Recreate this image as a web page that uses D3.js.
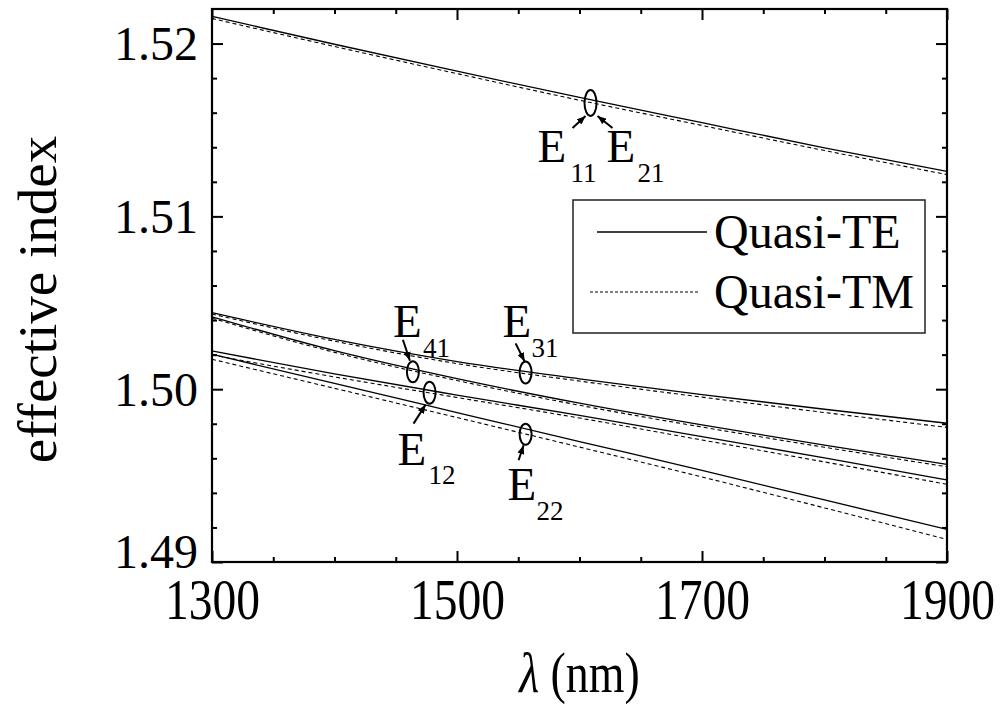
<!DOCTYPE html>
<html>
<head>
<meta charset="utf-8">
<script src="https://cdn.jsdelivr.net/npm/d3@7"></script>
<style>
  html, body { margin: 0; padding: 0; background: #fff; }
  svg { display: block; font-family: "Liberation Serif", "Times New Roman", serif; }
</style>
</head>
<body>
<svg id="chart" width="1003" height="708"></svg>
<script>
// Wavelength samples (nm)
const wavelengths = [1300, 1400, 1500, 1600, 1700, 1800, 1900];

// Effective index of each guided mode: quasi-TE (solid) and quasi-TM (dashed)
const e11TE = [1.52157, 1.51996, 1.51840, 1.51688, 1.51542, 1.51397, 1.51260];
const e11TM = [1.52145, 1.51983, 1.51826, 1.51672, 1.51526, 1.51381, 1.51242];
const e31TE = [1.50443, 1.50288, 1.50160, 1.50060, 1.49969, 1.49884, 1.49803];
const e31TM = [1.50435, 1.50278, 1.50148, 1.50047, 1.49954, 1.49865, 1.49779];
const e41TE = [1.50419, 1.50223, 1.50061, 1.49919, 1.49793, 1.49676, 1.49565];
const e41TM = [1.50411, 1.50213, 1.50050, 1.49907, 1.49781, 1.49664, 1.49551];
const e12TE = [1.50221, 1.50088, 1.49966, 1.49848, 1.49726, 1.49602, 1.49475];
const e12TM = [1.50198, 1.50071, 1.49952, 1.49833, 1.49706, 1.49579, 1.49450];
const e22TE = [1.50202, 1.50033, 1.49865, 1.49697, 1.49530, 1.49359, 1.49189];
const e22TM = [1.50173, 1.50005, 1.49836, 1.49665, 1.49492, 1.49313, 1.49131];

// Axis ticks
const xMajorTicks = [1300, 1500, 1700, 1900];
const xMinorTicks = [1350, 1400, 1450, 1550, 1600, 1650, 1750, 1800, 1850];
const yMajorTicks = [1.49, 1.50, 1.51, 1.52];
const yMinorTicks = [1.492, 1.494, 1.496, 1.498, 1.502, 1.504, 1.506, 1.508,
                     1.512, 1.514, 1.516, 1.518];

// Mode markers: wavelength / index where each ellipse sits
const markerModes  = ["11,21", "41", "31", "12", "22"];
const markerLambda = [1609, 1464, 1556, 1477.6, 1556];
const markerIndex  = [1.51656, 1.50101, 1.50097, 1.49980, 1.49739];

const legendLabels = ["Quasi-TE", "Quasi-TM"];

const svg = d3.select("#chart");
const plot = { left: 212, right: 947, top: 9, bottom: 562 };

const x = d3.scaleLinear().domain([1300, 1900]).range([plot.left, plot.right]);
const y = d3.scaleLinear().domain([1.49, 1.522]).range([plot.bottom, plot.top]);

const serif = '"Liberation Serif", "Times New Roman", serif';

// ---- curves ----
const series = [
  { v: e11TE, dash: false }, { v: e11TM, dash: true },
  { v: e31TE, dash: false }, { v: e31TM, dash: true },
  { v: e41TE, dash: false }, { v: e41TM, dash: true },
  { v: e12TE, dash: false }, { v: e12TM, dash: true },
  { v: e22TE, dash: false }, { v: e22TM, dash: true }
];

const line = d3.line()
  .x(d => x(d[0]))
  .y(d => y(d[1]))
  .curve(d3.curveMonotoneX);

svg.append("defs").append("clipPath").attr("id", "plotclip")
  .append("rect")
  .attr("x", plot.left).attr("y", plot.top)
  .attr("width", plot.right - plot.left).attr("height", plot.bottom - plot.top);

const curves = svg.append("g").attr("clip-path", "url(#plotclip)");
curves.selectAll("path.mode")
  .data(series)
  .join("path")
  .attr("class", "mode")
  .attr("d", s => line(wavelengths.map((w, i) => [w, s.v[i]])))
  .attr("fill", "none")
  .attr("stroke", "#000")
  .attr("stroke-width", s => s.dash ? 1.1 : 1.3)
  .attr("stroke-dasharray", s => s.dash ? "4,3" : null);

// ---- axes (ticks point inward on all four sides) ----
function styleAxis(g) {
  g.select(".domain").remove();
  g.selectAll(".tick line").attr("stroke", "#000").attr("stroke-width", 2);
}

// bottom
svg.append("g").attr("transform", `translate(0,${plot.bottom})`)
  .call(d3.axisBottom(x).tickValues(xMajorTicks).tickSize(-11).tickPadding(16)
        .tickFormat(d3.format("d")))
  .call(styleAxis)
  .call(g => g.selectAll(".tick text")
    .attr("font-family", serif).attr("font-size", 58).attr("fill", "#000")
    .attr("dy", "0.71em")
    .attr("transform", "scale(0.82,1)")
    .attr("x", 0));
svg.append("g").attr("transform", `translate(0,${plot.bottom})`)
  .call(d3.axisBottom(x).tickValues(xMinorTicks).tickSize(-5).tickFormat(""))
  .call(styleAxis);

// top
svg.append("g").attr("transform", `translate(0,${plot.top})`)
  .call(d3.axisTop(x).tickValues(xMajorTicks).tickSize(-11).tickFormat(""))
  .call(styleAxis);
svg.append("g").attr("transform", `translate(0,${plot.top})`)
  .call(d3.axisTop(x).tickValues(xMinorTicks).tickSize(-5).tickFormat(""))
  .call(styleAxis);

// left
svg.append("g").attr("transform", `translate(${plot.left},0)`)
  .call(d3.axisLeft(y).tickValues(yMajorTicks).tickSize(-11).tickPadding(14)
        .tickFormat(d3.format(".2f")))
  .call(styleAxis)
  .call(g => g.selectAll(".tick text")
    .attr("font-family", serif).attr("font-size", 48).attr("fill", "#000")
    .attr("dy", d => d === 1.49 ? "0.12em" : "0.34em"));
svg.append("g").attr("transform", `translate(${plot.left},0)`)
  .call(d3.axisLeft(y).tickValues(yMinorTicks).tickSize(-5).tickFormat(""))
  .call(styleAxis);

// right
svg.append("g").attr("transform", `translate(${plot.right},0)`)
  .call(d3.axisRight(y).tickValues(yMajorTicks).tickSize(-11).tickFormat(""))
  .call(styleAxis);
svg.append("g").attr("transform", `translate(${plot.right},0)`)
  .call(d3.axisRight(y).tickValues(yMinorTicks).tickSize(-5).tickFormat(""))
  .call(styleAxis);

// frame
svg.append("rect")
  .attr("x", plot.left).attr("y", plot.top)
  .attr("width", plot.right - plot.left).attr("height", plot.bottom - plot.top)
  .attr("fill", "none").attr("stroke", "#000").attr("stroke-width", 2.2);

// ---- axis titles ----
svg.append("text")
  .attr("transform", `translate(${(plot.left + plot.right) / 2},692) scale(0.82,1)`)
  .attr("text-anchor", "middle")
  .attr("font-family", serif).attr("font-size", 56).attr("fill", "#000")
  .call(t => {
    t.append("tspan").attr("font-style", "italic").text("λ");
    t.append("tspan").text(" (nm)");
  });

svg.append("text")
  .attr("transform", `translate(56,${(plot.top + plot.bottom) / 2 + 14}) rotate(-90)`)
  .attr("text-anchor", "middle")
  .attr("font-family", serif).attr("font-size", 55).attr("fill", "#000")
  .text("effective index");

// ---- legend ----
const legend = svg.append("g");
legend.append("rect")
  .attr("x", 573).attr("y", 200).attr("width", 352).attr("height", 133)
  .attr("fill", "#fff").attr("stroke", "#222").attr("stroke-width", 1.5);
const legendRows = [
  { y: 232, x1: 597, x2: 707, dash: false },
  { y: 292, x1: 590, x2: 698, dash: true }
];
legendRows.forEach((r, i) => {
  legend.append("line")
    .attr("x1", r.x1).attr("x2", r.x2).attr("y1", r.y).attr("y2", r.y)
    .attr("stroke", "#000").attr("stroke-width", r.dash ? 1 : 1.3)
    .attr("stroke-dasharray", r.dash ? "3,2" : null);
  legend.append("text")
    .attr("x", 714).attr("y", r.y + 16)
    .attr("font-family", serif).attr("font-size", 48).attr("fill", "#000")
    .text(legendLabels[i]);
});

// ---- mode annotations ----
svg.append("defs").append("marker")
  .attr("id", "arrowhead")
  .attr("viewBox", "0 0 10 8")
  .attr("refX", 10).attr("refY", 4)
  .attr("markerWidth", 9).attr("markerHeight", 7)
  .attr("markerUnits", "userSpaceOnUse")
  .attr("orient", "auto")
  .append("path").attr("d", "M0,0 L10,4 L0,8 Z").attr("fill", "#000");

// label layout relative to each ellipse: [E-x, E-baseline, sub-x, sub-baseline], arrow [x1,y1,x2,y2]
const labelLayout = {
  "41": { rx: 6, ry: 10.5, labels: [[-20, -35, 10, -15]], arrows: [[-10, -32, -3, -11]] },
  "31": { rx: 6, ry: 11, labels: [[-23, -35, 6, -15]], arrows: [[-10, -29, -1, -11]] },
  "12": { rx: 6, ry: 11, labels: [[-32, 72, -1, 91]], arrows: [[-16, 31, -4, 12]] },
  "22": { rx: 6, ry: 10.5, labels: [[-18, 66, 11, 86]], arrows: [[-7, 26, -2, 11]] },
  "11,21": { rx: 6, ry: 13, labels: [[-53, 59, -20, 79], [16, 59, 47, 79]],
             arrows: [[-18, 25, -5, 13], [22, 25, 7, 13]] }
};

markerModes.forEach((m, i) => {
  const cx = x(markerLambda[i]), cy = y(markerIndex[i]);
  const lay = labelLayout[m];
  const g = svg.append("g");
  g.append("ellipse")
    .attr("cx", cx).attr("cy", cy).attr("rx", lay.rx).attr("ry", lay.ry)
    .attr("fill", "none").attr("stroke", "#000").attr("stroke-width", 2);
  const subs = m.split(",");
  lay.labels.forEach((p, k) => {
    g.append("text")
      .attr("x", cx + p[0]).attr("y", cy + p[1])
      .attr("font-family", serif).attr("font-size", 47).attr("fill", "#000")
      .text("E");
    g.append("text")
      .attr("x", cx + p[2]).attr("y", cy + p[3])
      .attr("font-family", serif).attr("font-size", 27).attr("fill", "#000")
      .text(subs[k]);
  });
  lay.arrows.forEach(a => {
    g.append("line")
      .attr("x1", cx + a[0]).attr("y1", cy + a[1])
      .attr("x2", cx + a[2]).attr("y2", cy + a[3])
      .attr("stroke", "#000").attr("stroke-width", 2)
      .attr("marker-end", "url(#arrowhead)");
  });
});
</script>
</body>
</html>
